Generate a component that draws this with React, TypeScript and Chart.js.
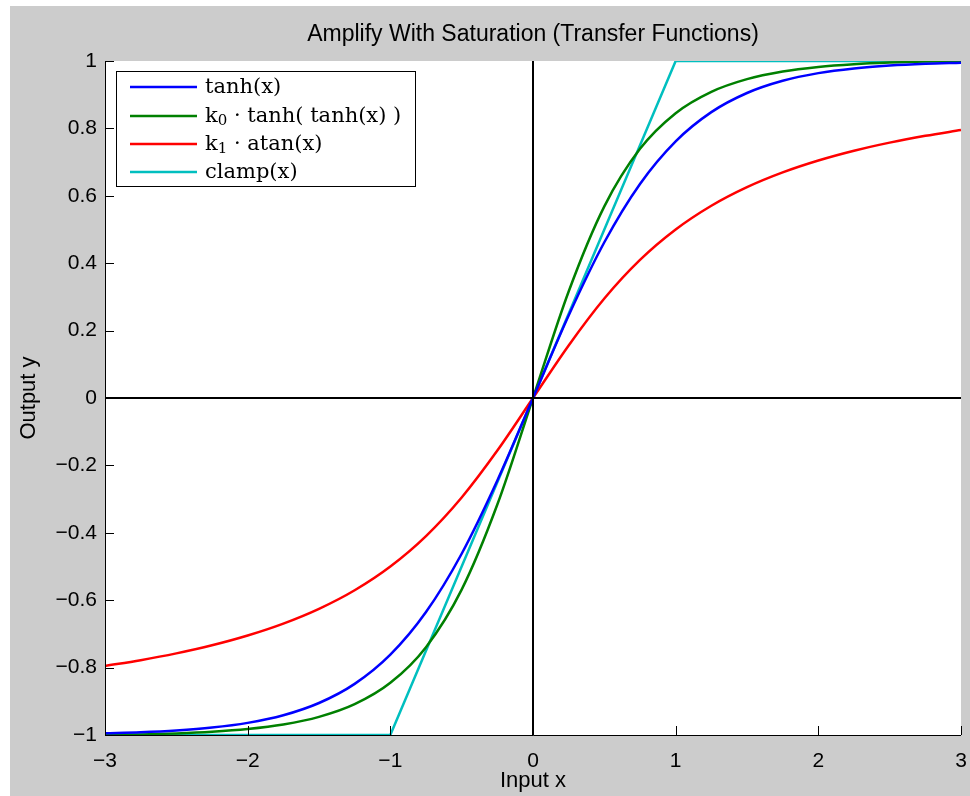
import React, { useEffect, useRef } from 'react';
import { Chart, registerables } from 'chart.js';

Chart.register(...registerables);

const TITLE = 'Amplify With Saturation (Transfer Functions)';
const X_LABEL = 'Input x';
const Y_LABEL = 'Output y';

const xValues = [-3, -2.75, -2.5, -2.25, -2, -1.75, -1.5, -1.25, -1, -0.75, -0.5, -0.25, 0,
  0.25, 0.5, 0.75, 1, 1.25, 1.5, 1.75, 2, 2.25, 2.5, 2.75, 3];

const tanhY = [-0.9951, -0.9919, -0.9866, -0.978, -0.964, -0.9414, -0.9051, -0.8483, -0.7616, -0.6351, -0.4621, -0.2449, 0,
  0.2449, 0.4621, 0.6351, 0.7616, 0.8483, 0.9051, 0.9414, 0.964, 0.978, 0.9866, 0.9919, 0.9951];

const tanhTanhY = [-1.0, -0.9982, -0.9952, -0.9903, -0.9822, -0.9688, -0.9463, -0.9086, -0.8452, -0.7393, -0.5686, -0.3161, 0,
  0.3161, 0.5686, 0.7393, 0.8452, 0.9086, 0.9463, 0.9688, 0.9822, 0.9903, 0.9952, 0.9982, 1.0];

const atanY = [-0.7952, -0.778, -0.7578, -0.7338, -0.7048, -0.6695, -0.6257, -0.5705, -0.5, -0.4097, -0.2952, -0.156, 0,
  0.156, 0.2952, 0.4097, 0.5, 0.5705, 0.6257, 0.6695, 0.7048, 0.7338, 0.7578, 0.778, 0.7952];

const clampX = [-3, -1, 1, 3];
const clampY = [-1, -1, 1, 1];

const zeroHX = [-3, 3];
const zeroHY = [0, 0];
const zeroVX = [0, 0];
const zeroVY = [-1, 1];

const seriesColors = ['#0000ff', '#008000', '#ff0000', '#00bfbf'];

// legend labels: [text, isSubscript]
const legendLabels: [string, boolean][][] = [
  [['tanh(x)', false]],
  [['k', false], ['0', true], [' \u00b7 tanh( tanh(x) )', false]],
  [['k', false], ['1', true], [' \u00b7 atan(x)', false]],
  [['clamp(x)', false]],
];

const xTickValues = [-3, -2, -1, 0, 1, 2, 3];

const SANS = '"Liberation Sans", Arial, Helvetica, sans-serif';
const SERIF = '"DejaVu Serif", "Liberation Serif", serif';

function pts(xs: number[], ys: number[]) {
  return xs.map((x, i) => ({ x, y: ys[i] }));
}

function fmt(v: number) {
  const r = Math.round(v * 10) / 10;
  const s = Number.isInteger(r) ? String(r) : r.toFixed(1);
  return s.replace('-', '\u2212');
}

const decorPlugin = {
  id: 'decor',
  beforeDraw(chart: any) {
    const { ctx, chartArea: a, width, height } = chart;
    ctx.save();
    ctx.fillStyle = '#cccccc';
    ctx.fillRect(0, 0, width, height);
    ctx.fillStyle = '#ffffff';
    ctx.fillRect(a.left, a.top, a.right - a.left, a.bottom - a.top);
    ctx.restore();
  },
  afterDatasetsDraw(chart: any) {
    const { ctx, chartArea: a, scales } = chart;
    const xs = scales.x;
    const ys = scales.y;
    ctx.save();
    // axes lines
    ctx.strokeStyle = '#000';
    ctx.lineWidth = 1;
    ctx.beginPath();
    ctx.moveTo(a.left + 0.5, a.top);
    ctx.lineTo(a.left + 0.5, a.bottom + 0.5);
    ctx.lineTo(a.right, a.bottom + 0.5);
    ctx.stroke();
    // inward ticks
    const tl = 9;
    ctx.beginPath();
    for (const t of xs.ticks) {
      const px = Math.round(xs.getPixelForValue(t.value)) + 0.5;
      ctx.moveTo(px, a.bottom);
      ctx.lineTo(px, a.bottom - tl);
    }
    for (const t of ys.ticks) {
      const py = Math.round(ys.getPixelForValue(t.value)) + 0.5;
      ctx.moveTo(a.left, py);
      ctx.lineTo(a.left + tl, py);
    }
    ctx.stroke();

    // title
    ctx.fillStyle = '#000';
    ctx.font = `23px ${SANS}`;
    ctx.textAlign = 'center';
    ctx.textBaseline = 'middle';
    ctx.fillText(TITLE, (a.left + a.right) / 2, 29);
    // x label
    ctx.font = `22px ${SANS}`;
    ctx.fillText(X_LABEL, (a.left + a.right) / 2, 775);
    // y label
    ctx.save();
    ctx.translate(19, (a.top + a.bottom) / 2);
    ctx.rotate(-Math.PI / 2);
    ctx.fillText(Y_LABEL, 0, 0);
    ctx.restore();

    // legend
    const bx = 106.5, by = 65.5, bw = 299, bh = 115;
    ctx.fillStyle = '#fff';
    ctx.fillRect(bx, by, bw, bh);
    ctx.strokeStyle = '#000';
    ctx.lineWidth = 1;
    ctx.strokeRect(bx, by, bw, bh);
    const rowY = [81, 110, 138, 166];
    legendLabels.forEach((parts, i) => {
      const y = rowY[i];
      ctx.strokeStyle = seriesColors[i];
      ctx.lineWidth = 2.5;
      ctx.beginPath();
      ctx.moveTo(120, y);
      ctx.lineTo(187, y);
      ctx.stroke();
      let x = 195;
      ctx.fillStyle = '#000';
      ctx.textAlign = 'left';
      ctx.textBaseline = 'middle';
      for (const [txt, sub] of parts) {
        ctx.font = sub ? `15px ${SERIF}` : `21px ${SERIF}`;
        ctx.fillText(txt, x, sub ? y + 5 : y + 1);
        x += ctx.measureText(txt).width;
      }
    });
    ctx.restore();
  },
};

export default function App() {
  const ref = useRef<HTMLCanvasElement | null>(null);
  useEffect(() => {
    if (!ref.current) return;
    const lineDs = (label: string, data: any[], color: string, width: number, mono: boolean) => ({
      label,
      data,
      borderColor: color,
      backgroundColor: color,
      borderWidth: width,
      pointRadius: 0,
      fill: false,
      cubicInterpolationMode: mono ? 'monotone' : 'default',
      tension: 0,
    });
    const chart = new Chart(ref.current, {
      type: 'line',
      data: {
        datasets: [
          lineDs('zeroH', pts(zeroHX, zeroHY), '#000', 2, false),
          lineDs('zeroV', pts(zeroVX, zeroVY), '#000', 2, false),
          lineDs('tanh(x)', pts(xValues, tanhY), seriesColors[0], 2.5, true),
          lineDs('k0 tanh(tanh(x))', pts(xValues, tanhTanhY), seriesColors[1], 2.5, true),
          lineDs('k1 atan(x)', pts(xValues, atanY), seriesColors[2], 2.5, true),
          lineDs('clamp(x)', pts(clampX, clampY), seriesColors[3], 2.5, false),
        ] as any,
      },
      options: {
        responsive: false,
        animation: false,
        devicePixelRatio: 1,
        parsing: false as any,
        layout: { padding: { top: 55, right: 9, left: 0, bottom: 0 } },
        plugins: { legend: { display: false }, title: { display: false }, tooltip: { enabled: false } },
        scales: {
          x: {
            type: 'linear',
            min: -3,
            max: 3,
            afterBuildTicks: (s: any) => { s.ticks = xTickValues.map((v) => ({ value: v })); },
            afterFit: (s: any) => { s.height = 61; s.paddingLeft = 0; s.paddingRight = 0; },
            ticks: {
              padding: 14,
              color: '#000',
              font: { family: SANS, size: 21 },
              maxRotation: 0,
              autoSkip: false,
              callback: (v: any) => fmt(Number(v)),
            },
            grid: { display: false, drawTicks: false },
            border: { display: false },
          },
          y: {
            type: 'linear',
            min: -1,
            max: 1,
            afterFit: (s: any) => { s.width = 95; s.paddingTop = 0; s.paddingBottom = 0; },
            ticks: {
              stepSize: 0.2,
              padding: 8,
              color: '#000',
              font: { family: SANS, size: 21 },
              autoSkip: false,
              callback: (v: any) => fmt(Number(v)),
            },
            grid: { display: false, drawTicks: false },
            border: { display: false },
          },
        },
      } as any,
      plugins: [decorPlugin],
    });
    return () => chart.destroy();
  }, []);
  return (
    <div style={{ position: 'absolute', left: 10, top: 6, width: 960, height: 790, background: '#cccccc' }}>
      <canvas ref={ref} width={960} height={790} style={{ display: 'block' }} />
    </div>
  );
}
